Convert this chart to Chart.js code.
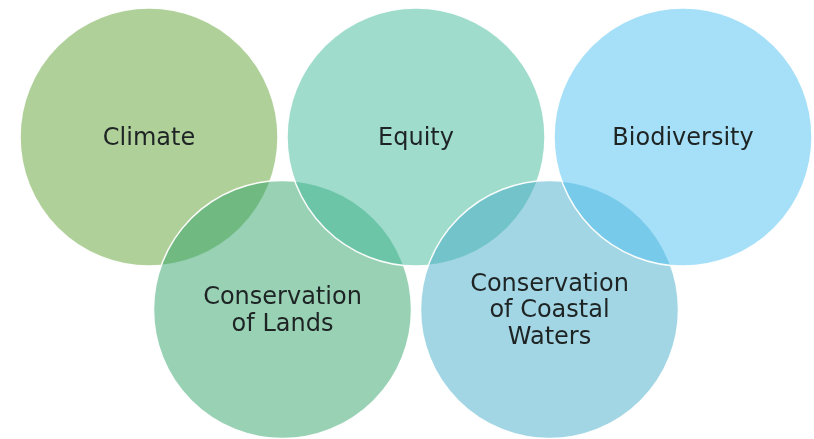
<!DOCTYPE html>
<html>
<head>
<meta charset="utf-8">
<script src="https://cdn.jsdelivr.net/npm/chart.js@4/dist/chart.umd.min.js"></script>
<style>
  html, body { margin: 0; padding: 0; background: #ffffff; }
  #wrap { width: 814px; height: 439px; position: relative; }
</style>
</head>
<body>
<div id="wrap"><canvas id="c" width="814" height="439"></canvas></div>
<script>
// ---- Data ----
const categories = ['Climate', 'Conservation of Lands', 'Equity', 'Conservation of Coastal Waters', 'Biodiversity'];
const labelLines = [['Climate'], ['Conservation', 'of Lands'], ['Equity'], ['Conservation', 'of Coastal', 'Waters'], ['Biodiversity']];
const xValues = [0, 0.5, 1, 1.5, 2];
const yValues = [0, 1, 0, 1, 0];

// ---- Styles ----
const fillColors = [
  'rgba(97,161,53,0.5)',
  'rgba(49,163,105,0.5)',
  'rgba(63,185,153,0.5)',
  'rgba(69,173,201,0.5)',
  'rgba(77,191,241,0.5)'
];
const circleRadius = 129;
const fontSize = 24;
const lineHeight = 26.5;
const fontFamily = '"DejaVu Sans", sans-serif';

const points = xValues.map((x, i) => ({ x: x, y: yValues[i] }));

const labelPlugin = {
  id: 'circleLabels',
  afterDatasetsDraw(chart) {
    const ctx = chart.ctx;
    const meta = chart.getDatasetMeta(0);
    ctx.save();
    ctx.font = fontSize + 'px ' + fontFamily;
    ctx.fillStyle = '#1e2424';
    ctx.textAlign = 'center';
    ctx.textBaseline = 'alphabetic';
    const capH = fontSize * 0.729;
    meta.data.forEach((el, i) => {
      const lines = labelLines[i];
      const n = lines.length;
      lines.forEach((line, j) => {
        const by = el.y - 1 + capH / 2 + (j - (n - 1) / 2) * lineHeight;
        ctx.fillText(line, el.x, by);
      });
    });
    ctx.restore();
  }
};

new Chart(document.getElementById('c'), {
  type: 'bubble',
  data: {
    labels: categories,
    datasets: [{
      label: 'Themes',
      data: points,
      backgroundColor: fillColors,
      borderColor: 'rgba(255,255,255,0.95)',
      borderWidth: 1.5,
      radius: circleRadius,
      hoverRadius: 0,
      clip: false
    }]
  },
  options: {
    responsive: false,
    maintainAspectRatio: false,
    animation: false,
    events: [],
    layout: { padding: 0, autoPadding: false },
    plugins: { legend: { display: false }, tooltip: { enabled: false } },
    scales: {
      x: { type: 'linear', min: -0.5581, max: 2.4906, display: false },
      y: { type: 'linear', min: -0.7942, max: 1.7507, reverse: true, display: false }
    }
  },
  plugins: [labelPlugin]
});
</script>
</body>
</html>
